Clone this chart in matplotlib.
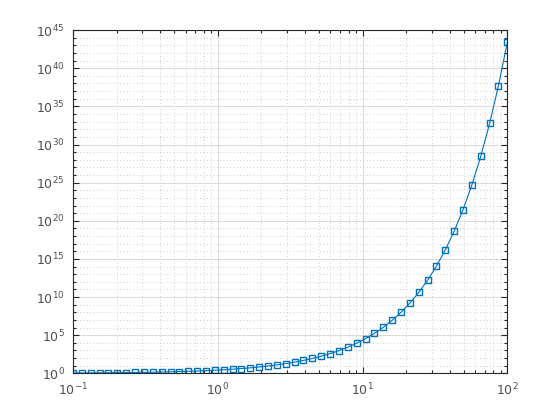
import numpy as np
import matplotlib
matplotlib.use('Agg')
from matplotlib import pyplot as plt
from matplotlib.ticker import FixedLocator, NullFormatter, LogFormatterMathtext

# sample positions (x) and log10 of the plotted values
x_vals = [0.1000, 0.1151, 0.1326, 0.1526, 0.1758, 0.2024, 0.2330, 0.2683, 0.3089, 0.3556,
          0.4095, 0.4715, 0.5429, 0.6251, 0.7197, 0.8286, 0.9541, 1.0985, 1.2649, 1.4563,
          1.6768, 1.9307, 2.2230, 2.5595, 2.9471, 3.3932, 3.9069, 4.4984, 5.1795, 5.9636,
          6.8665, 7.9060, 9.1030, 10.481, 12.068, 13.895, 15.999, 18.421, 21.210, 24.421,
          28.118, 32.375, 37.276, 42.919, 49.417, 56.899, 65.513, 75.431, 86.851, 100.00]
y_log10 = [0.043, 0.050, 0.058, 0.066, 0.076, 0.088, 0.101, 0.117, 0.134, 0.154,
           0.178, 0.205, 0.236, 0.272, 0.313, 0.360, 0.414, 0.477, 0.549, 0.633,
           0.728, 0.839, 0.965, 1.112, 1.280, 1.474, 1.697, 1.954, 2.249, 2.590,
           2.982, 3.434, 3.953, 4.552, 5.241, 6.035, 6.948, 8.000, 9.211, 10.606,
           12.211, 14.060, 16.189, 18.640, 21.462, 24.711, 28.452, 32.759, 37.719, 43.429]

xticks = [0.1, 1, 10, 100]
ytick_exps = [0, 5, 10, 15, 20, 25, 30, 35, 40, 45]

axcol = (0.15, 0.15, 0.15)
blue = '#0072BD'

fig = plt.figure(figsize=(5.6, 4.2), dpi=100)
ax = fig.add_axes([0.1304, 0.111, 0.7756, 0.8174])

y_vals = [10.0 ** v for v in y_log10]
ax.loglog(x_vals, y_vals, '-s', color=blue, linewidth=0.8,
          markersize=5, markerfacecolor='none', markeredgewidth=1.0)

ax.set_xlim(0.1, 100)
ax.set_ylim(1, 1e45)

ax.xaxis.set_major_locator(FixedLocator(xticks))
ax.xaxis.set_major_formatter(LogFormatterMathtext())
ax.xaxis.set_minor_locator(FixedLocator(
    [m * d for d in [0.1, 1, 10] for m in range(2, 10)]))
ax.xaxis.set_minor_formatter(NullFormatter())

ax.yaxis.set_major_locator(FixedLocator([10.0 ** e for e in ytick_exps]))
ax.yaxis.set_major_formatter(LogFormatterMathtext())
ax.yaxis.set_minor_locator(FixedLocator([10.0 ** e for e in range(0, 46)]))
ax.yaxis.set_minor_formatter(NullFormatter())

ax.grid(True, which='major', color='#dcdcdc', linestyle='-', linewidth=0.8)
ax.grid(True, which='minor', color='#bcbcbc', linestyle=(0, (1, 3)), linewidth=0.6)
ax.set_axisbelow(True)

ax.tick_params(which='both', direction='in', top=True, right=True,
               colors=axcol, labelsize=9, width=0.8)
ax.tick_params(which='major', length=4, pad=6)
ax.tick_params(which='minor', length=2.5)
for s in ax.spines.values():
    s.set_color(axcol)
    s.set_linewidth(0.8)
for lab in ax.get_xticklabels() + ax.get_yticklabels():
    lab.set_color((0.3, 0.3, 0.3))

fig.savefig('out.png', dpi=100)
